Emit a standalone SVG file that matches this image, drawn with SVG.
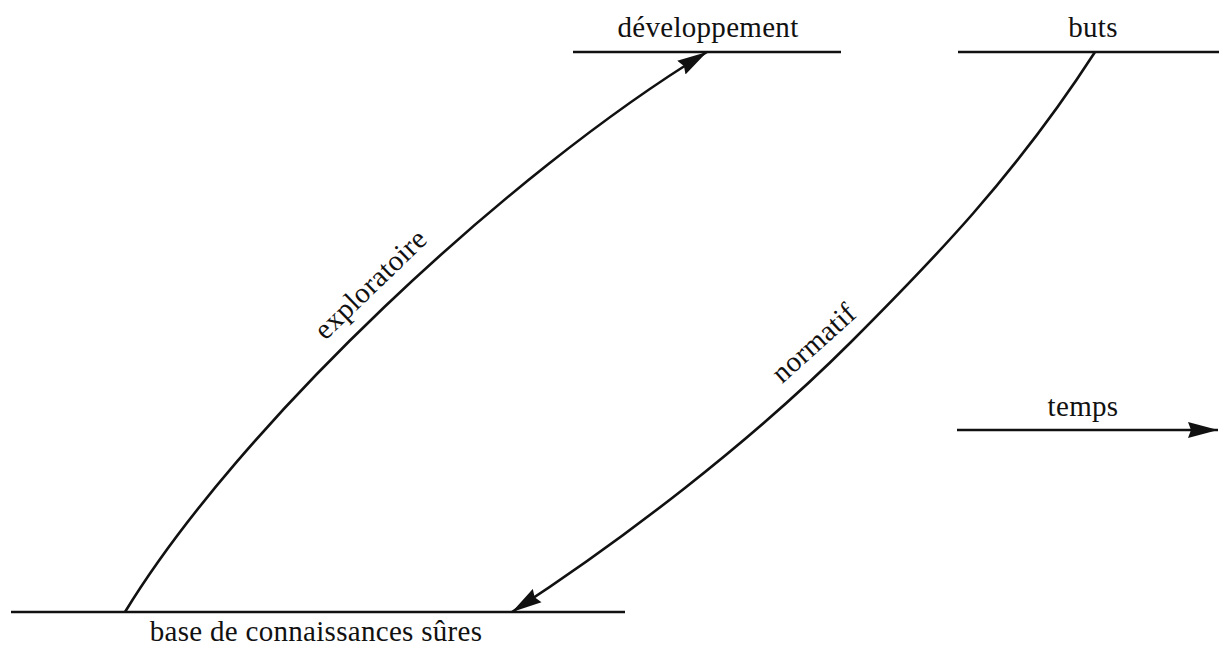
<svg xmlns="http://www.w3.org/2000/svg" width="1219" height="648" viewBox="0 0 1219 648">
  <style>
    .rule { stroke: #111; stroke-width: 2.6; fill: none; }
    .flow { stroke: #111; stroke-width: 2.6; fill: none; }
    .lbl { font-family: "Liberation Serif", "Times New Roman", serif; font-size: 29px; fill: #111; text-anchor: middle; letter-spacing: 0.3px; }
  </style>
  <defs>
    <marker id="head" markerUnits="userSpaceOnUse" markerWidth="32" markerHeight="18" refX="30" refY="9" orient="auto">
      <path d="M0,1 L30,9 L0,17 L3,9 Z" fill="#111"/>
    </marker>
  </defs>
  <rect width="1219" height="648" fill="#fff"/>

  <!-- horizon levels -->
  <g id="developpement">
    <line class="rule" x1="573" y1="52" x2="841" y2="52"/>
    <text class="lbl" x="708" y="37">développement</text>
  </g>
  <g id="buts">
    <line class="rule" x1="958" y1="52" x2="1219" y2="52"/>
    <text class="lbl" x="1093" y="37">buts</text>
  </g>
  <g id="base">
    <line class="rule" x1="11" y1="612" x2="625" y2="612"/>
    <text class="lbl" x="316" y="641">base de connaissances sûres</text>
  </g>
  <g id="temps">
    <text class="lbl" x="1083" y="416">temps</text>
  </g>

  <!-- forecasting paths -->
  <g id="connectors">
    <path id="exploratoire" class="flow" d="M125,612 C239,425 508,173 707,52" marker-end="url(#head)"/>
    <path id="normatif" class="flow" d="M1095,52 C1015,176 931,262 851,342 C751,442 622,540.5 512,612" marker-end="url(#head)"/>
    <path id="time-axis" class="flow" d="M957,430 H1218" marker-end="url(#head)"/>
    <text class="lbl" transform="translate(377,291) rotate(-44)" x="0" y="0">exploratoire</text>
    <text class="lbl" transform="translate(820,350) rotate(-42)" x="0" y="0">normatif</text>
  </g>
</svg>
